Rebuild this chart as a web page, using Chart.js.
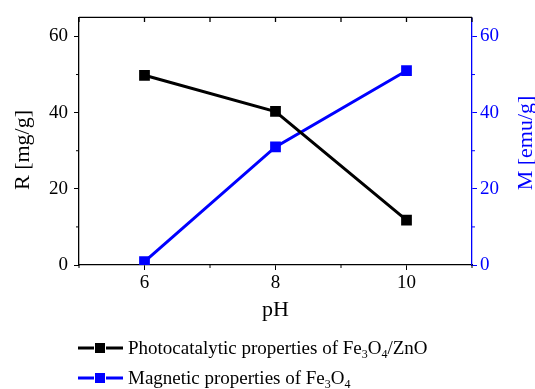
<!DOCTYPE html>
<html>
<head>
<meta charset="utf-8">
<script src="https://cdn.jsdelivr.net/npm/chart.js@4.4.1/dist/chart.umd.min.js"></script>
<style>
  html, body { margin: 0; padding: 0; background: #fff; }
  #wrap { width: 535px; height: 389px; position: relative; }
</style>
</head>
<body>
<div id="wrap"><canvas id="chart"></canvas></div>
<script>
// values
const phValues = [6, 8, 10];
const photocatalytic = [49.8, 40.3, 11.8]; // R [mg/g]
const magnetic = [0.9, 31.0, 51.0];        // M [emu/g]
const xMajorTicks = [6, 8, 10];
const yMajorTicks = [0, 20, 40, 60];
const yAllTicks = [0, 10, 20, 30, 40, 50, 60];
const legendLabels = [
  ['Photocatalytic properties of Fe', '3', 'O', '4', '/ZnO'],
  ['Magnetic properties of Fe', '3', 'O', '4']
];
const yTitles = ['R [mg/g]', 'M [emu/g]'];

const FONT = '"Liberation Serif", "Times New Roman", serif';
const BLUE = '#0000ff';

function pts(ys) {
  return phValues.map((x, i) => ({ x: x, y: ys[i] }));
}

// extras: top frame, minor ticks, y titles, legend with subscripts
const extras = {
  id: 'extras',
  afterDraw(chart) {
    const ctx = chart.ctx;
    const area = chart.chartArea;
    const xs = chart.scales.x, yl = chart.scales.y, yr = chart.scales.y2;
    ctx.save();

    // top border with inward ticks
    ctx.strokeStyle = '#000';
    ctx.lineWidth = 1.3;
    ctx.beginPath();
    ctx.moveTo(area.left, area.top);
    ctx.lineTo(area.right, area.top);
    for (let v = 5; v <= 11; v++) {
      const px = xs.getPixelForValue(v);
      ctx.moveTo(px, area.top);
      ctx.lineTo(px, area.top + 4.5);
    }
    ctx.stroke();

    // minor ticks
    ctx.lineWidth = 1;
    ctx.beginPath();
    [5, 7, 9, 11].forEach(v => {
      const px = xs.getPixelForValue(v);
      ctx.moveTo(px, area.bottom);
      ctx.lineTo(px, area.bottom + 3);
    });
    [10, 30, 50].forEach(v => {
      const py = yl.getPixelForValue(v);
      ctx.moveTo(area.left, py);
      ctx.lineTo(area.left - 3, py);
    });
    ctx.stroke();
    ctx.strokeStyle = BLUE;
    ctx.beginPath();
    [10, 30, 50].forEach(v => {
      const py = yr.getPixelForValue(v);
      ctx.moveTo(area.right, py);
      ctx.lineTo(area.right + 3, py);
    });
    ctx.stroke();

    // y titles (both read bottom to top)
    ctx.font = '22px ' + FONT;
    ctx.textAlign = 'center';
    ctx.textBaseline = 'middle';
    ctx.fillStyle = '#000';
    ctx.save();
    ctx.translate(23, 150);
    ctx.rotate(-Math.PI / 2);
    ctx.fillText(yTitles[0], 0, 0);
    ctx.restore();
    ctx.fillStyle = BLUE;
    ctx.save();
    ctx.translate(526, 143);
    ctx.rotate(-Math.PI / 2);
    ctx.fillText(yTitles[1], 0, 0);
    ctx.restore();

    // legend
    const colors = ['#000', BLUE];
    const rows = [348, 378];
    legendLabels.forEach((parts, i) => {
      const cy = rows[i];
      ctx.strokeStyle = colors[i];
      ctx.fillStyle = colors[i];
      ctx.lineWidth = 3;
      ctx.beginPath();
      ctx.moveTo(78, cy); ctx.lineTo(94, cy);
      ctx.moveTo(106, cy); ctx.lineTo(123, cy);
      ctx.stroke();
      ctx.fillRect(95, cy - 5, 10, 10);

      ctx.fillStyle = '#000';
      ctx.textAlign = 'left';
      ctx.textBaseline = 'alphabetic';
      let x = 128;
      const base = cy + 6;
      parts.forEach((t, k) => {
        const sub = k === 1 || k === 3;
        ctx.font = (sub ? '12px ' : '19px ') + FONT;
        ctx.fillText(t, x, sub ? base + 4 : base);
        x += ctx.measureText(t).width;
      });
    });

    ctx.restore();
  }
};

function fixedYTicks(scale) {
  scale.ticks = yAllTicks.map(v => ({ value: v }));
}

new Chart(document.getElementById('chart'), {
  type: 'line',
  data: {
    datasets: [
      {
        label: 'Photocatalytic properties of Fe₃O₄/ZnO',
        data: pts(photocatalytic),
        yAxisID: 'y',
        borderColor: '#000',
        backgroundColor: '#000',
        borderWidth: 3,
        pointStyle: 'rect',
        pointRadius: 7.6,
        pointBorderWidth: 0,
        tension: 0
      },
      {
        label: 'Magnetic properties of Fe₃O₄',
        data: pts(magnetic),
        yAxisID: 'y2',
        borderColor: BLUE,
        backgroundColor: BLUE,
        borderWidth: 3,
        pointStyle: 'rect',
        pointRadius: 7.6,
        pointBorderWidth: 0,
        tension: 0
      }
    ]
  },
  options: {
    responsive: true,
    maintainAspectRatio: false,
    animation: false,
    layout: { padding: { left: 0, right: 0, top: 14, bottom: 64 } },
    plugins: {
      legend: { display: false },
      tooltip: { enabled: false }
    },
    scales: {
      x: {
        type: 'linear',
        min: 5,
        max: 11,
        afterFit(scale) { scale.height = 60; },
        border: { color: '#000', width: 1.3 },
        grid: {
          drawOnChartArea: false,
          tickLength: 5,
          tickColor: ctx => xMajorTicks.includes(ctx.tick.value) ? '#000' : 'rgba(0,0,0,0)'
        },
        ticks: {
          stepSize: 1,
          autoSkip: false,
          maxRotation: 0,
          padding: 2,
          color: '#000',
          font: { family: FONT, size: 19 },
          callback: v => xMajorTicks.includes(v) ? String(v) : ''
        },
        title: {
          display: true,
          text: 'pH',
          color: '#000',
          font: { family: FONT, size: 22 },
          padding: { top: 0, bottom: 2 }
        }
      },
      y: {
        position: 'left',
        min: 0,
        max: 65,
        afterBuildTicks: fixedYTicks,
        afterFit(scale) { scale.width = 79; },
        border: { color: '#000', width: 1.3 },
        grid: {
          drawOnChartArea: false,
          tickLength: 5,
          tickColor: ctx => yMajorTicks.includes(ctx.tick.value) ? '#000' : 'rgba(0,0,0,0)'
        },
        ticks: {
          autoSkip: false,
          padding: 6,
          color: '#000',
          font: { family: FONT, size: 19 },
          callback: v => yMajorTicks.includes(v) ? String(v) : ''
        }
      },
      y2: {
        position: 'right',
        min: 0,
        max: 65,
        afterBuildTicks: fixedYTicks,
        afterFit(scale) { scale.width = 63; },
        border: { color: BLUE, width: 1.3 },
        grid: {
          drawOnChartArea: false,
          tickLength: 5,
          tickColor: ctx => yMajorTicks.includes(ctx.tick.value) ? BLUE : 'rgba(0,0,0,0)'
        },
        ticks: {
          autoSkip: false,
          padding: 3,
          color: BLUE,
          font: { family: FONT, size: 19 },
          callback: v => yMajorTicks.includes(v) ? String(v) : ''
        }
      }
    }
  },
  plugins: [extras]
});
</script>
</body>
</html>
